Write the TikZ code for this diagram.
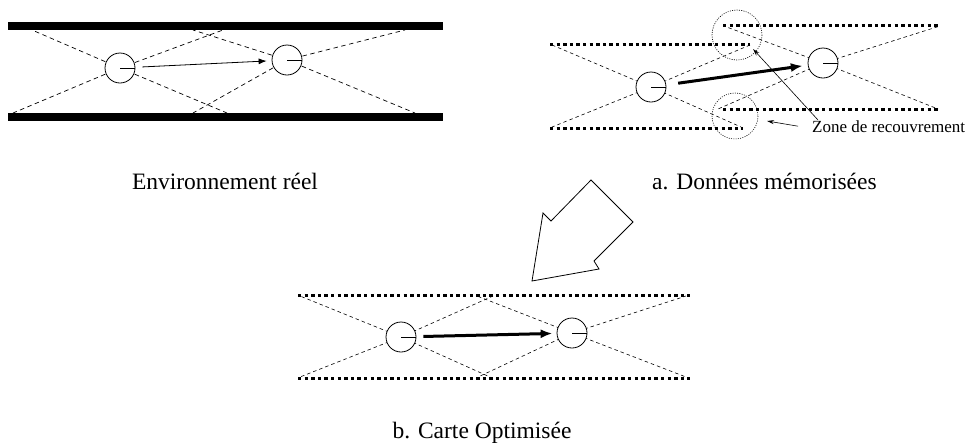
\documentclass[tikz,border=0pt]{standalone}
\usepackage{fontspec}
\setmainfont{Liberation Serif}
\usetikzlibrary{arrows.meta}
\tikzset{
  robot/.style={circle,draw=black,fill=white,line width=0.8pt,minimum size=30pt,inner sep=0pt},
  ray/.style={dashed,line width=0.7pt,dash pattern=on 4.5pt off 3.5pt},
  rayb/.style={line width=0.6pt,dash pattern=on 3.5pt off 3pt},
  wall/.style={line width=8.3pt},
  memwall/.style={line width=3pt,dash pattern=on 3.3pt off 3.3pt},
  zonec/.style={line width=0.6pt,dash pattern=on 1pt off 1.3pt},
  thinarrow/.style={line width=0.8pt,-{Latex[length=8pt,width=6pt]}},
  thickarrow/.style={line width=3pt,-{Latex[length=12pt,width=9pt]}},
  lblarrow/.style={line width=0.6pt,-{Stealth[length=7pt,width=4pt]}},
  caption/.style={font=\fontsize{23.5}{28}\selectfont,inner sep=0pt},
  small/.style={font=\fontsize{17}{20}\selectfont,inner sep=0pt}
}
\begin{document}
\begin{tikzpicture}[x=1pt,y=-1pt]
\useasboundingbox (0,0) rectangle (965,445);
% ---------------- Panel 1 : environnement reel
\draw[wall] (8,26) -- (443,26);
\draw[wall] (8,117) -- (443,117);
\coordinate (c1) at (120,68);
\coordinate (c2) at (287,60);
\draw[ray] (c1) -- (32,30);
\draw[ray] (c1) -- (13,113);
\draw[ray] (c1) -- (223,30);
\draw[ray] (c1) -- (227,113);
\draw[ray] (c2) -- (193,30);
\draw[ray] (c2) -- (193,113);
\draw[ray] (c2) -- (405,30);
\draw[ray] (c2) -- (415,113);
\node[robot] (r1) at (c1) {};
\node[robot] (r2) at (c2) {};
\draw[line width=0.8pt] (r1.center) -- (r1.east);
\draw[line width=0.8pt] (r2.center) -- (r2.east);
\draw[thinarrow,shorten <=7pt,shorten >=5pt] (r1) -- (r2);
\node[caption,anchor=base] (t1) at (225,189) {Environnement réel};
% ---------------- Panel 2 : donnees memorisees
\draw[memwall] (550,44) -- (750,44);
\draw[memwall] (550,128) -- (743,128);
\draw[memwall] (723,25) -- (940,25);
\draw[memwall] (723,109) -- (940,109);
\coordinate (c3) at (651,87);
\coordinate (c4) at (823,63);
\draw[rayb] (c3) -- (552,45);
\draw[rayb] (c3) -- (552,127);
\draw[rayb] (c3) -- (750,45);
\draw[rayb] (c3) -- (741,127);
\draw[rayb] (c4) -- (724,26);
\draw[rayb] (c4) -- (718,109);
\draw[rayb] (c4) -- (940,26);
\draw[rayb] (c4) -- (938,109);
\node[robot] (r3) at (c3) {};
\node[robot] (r4) at (c4) {};
\draw[line width=0.8pt] (r3.center) -- (r3.east);
\draw[line width=0.8pt] (r4.center) -- (r4.east);
\draw[thickarrow,shorten <=12pt,shorten >=5pt] (r3) -- (r4);
\draw[zonec] (737,35) circle[radius=25];
\draw[zonec] (735,116) circle[radius=23];
\node[small,anchor=base west] (zone) at (812,132) {Zone de recouvrement};
\coordinate (z1) at (753,49);
\coordinate (z2) at (767,121);
\draw[lblarrow] ([xshift=6pt]zone.north west) -- (z1);
\draw[lblarrow] ([xshift=-14pt]zone.west) -- (z2);
\node[caption,anchor=base west] (t2) at (652,189) {a. Données mémorisées};
% ---------------- big hollow arrow
\draw[line width=0.8pt,line join=miter] (532,281) -- (543,213) -- (551,221) -- (591,180) -- (633,222) -- (594,261) -- (599,269) -- cycle;
% ---------------- Panel 3 : carte optimisee
\draw[memwall] (298,295) -- (690,295);
\draw[memwall] (298,378) -- (690,378);
\coordinate (c5) at (401,337);
\coordinate (c6) at (572,333);
\draw[rayb] (c5) -- (300,296);
\draw[rayb] (c5) -- (300,377);
\draw[rayb] (c5) -- (493,296);
\draw[rayb] (c5) -- (490,377);
\draw[rayb] (c6) -- (477,296);
\draw[rayb] (c6) -- (478,377);
\draw[rayb] (c6) -- (686,296);
\draw[rayb] (c6) -- (686,377);
\node[robot] (r5) at (c5) {};
\node[robot] (r6) at (c6) {};
\draw[line width=0.8pt] (r5.center) -- (r5.east);
\draw[line width=0.8pt] (r6.center) -- (r6.east);
\draw[thickarrow,shorten <=7pt,shorten >=4pt] (r5) -- (r6);
\node[caption,anchor=base] (t3) at (482,438) {b. Carte Optimisée};
\end{tikzpicture}
\end{document}
